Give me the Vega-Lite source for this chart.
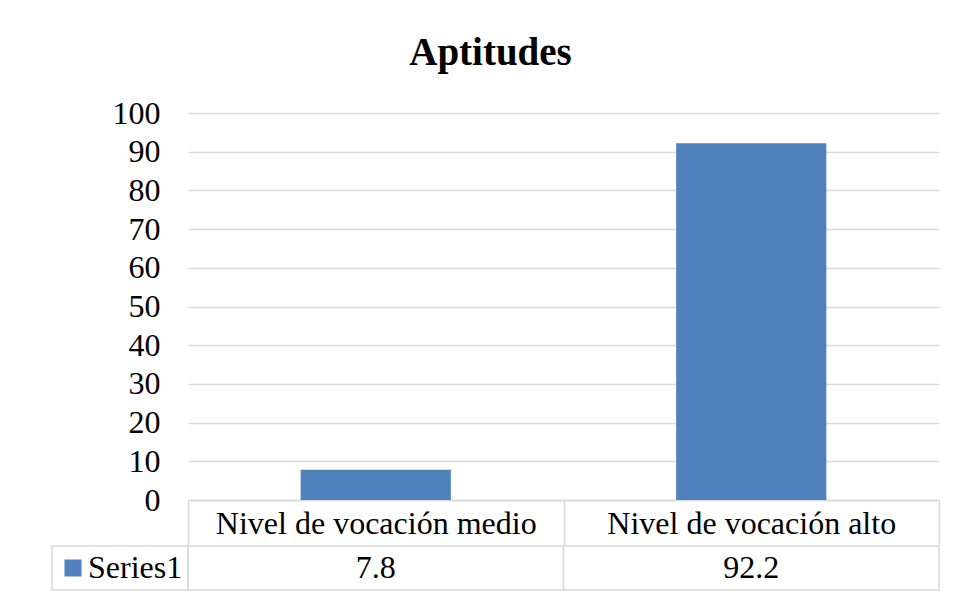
{
  "$schema": "https://vega.github.io/schema/vega-lite/v6.json",
  "background": "white",
  "padding": {"left": 51, "top": 34, "right": 14, "bottom": 6},
  "title": {
    "text": "Aptitudes",
    "font": "Liberation Serif",
    "fontSize": 39,
    "fontWeight": "bold",
    "color": "black",
    "anchor": "middle",
    "frame": "bounds",
    "dx": -5,
    "offset": 24
  },
  "datasets": {
    "aptitudes": [
      {"nivel": "Nivel de vocación medio", "serie": "Series1", "valor": 7.8},
      {"nivel": "Nivel de vocación alto", "serie": "Series1", "valor": 92.2}
    ]
  },
  "config": {
    "view": {"stroke": null},
    "font": "Liberation Serif"
  },
  "spacing": -4,
  "resolve": {"legend": {"color": "independent"}, "scale": {"color": "independent"}},
  "vconcat": [
    {
      "width": 751,
      "height": 387,
      "data": {"name": "aptitudes"},
      "mark": {"type": "bar", "color": "#4F81BD", "width": {"band": 0.4}},
      "encoding": {
        "x": {
          "field": "nivel",
          "type": "nominal",
          "sort": null,
          "scale": {"paddingInner": 0, "paddingOuter": 0},
          "axis": {
            "title": null,
            "labelAngle": 0,
            "labelFont": "Liberation Serif",
            "labelFontSize": 32,
            "labelColor": "black",
            "labelBaseline": "middle",
            "labelPadding": -22,
            "labelLimit": 400,
            "tickBand": "extent",
            "tickSize": 45,
            "tickColor": "#d9d9d9",
            "tickWidth": 1.5,
            "domainColor": "#d9d9d9",
            "domainWidth": 1.5
          }
        },
        "y": {
          "field": "valor",
          "type": "quantitative",
          "scale": {"domain": [0, 100], "nice": false},
          "axis": {
            "title": null,
            "values": [0, 10, 20, 30, 40, 50, 60, 70, 80, 90, 100],
            "domain": false,
            "ticks": false,
            "grid": true,
            "gridColor": "#d9d9d9",
            "gridWidth": 1.5,
            "labelFont": "Liberation Serif",
            "labelFontSize": 32,
            "labelColor": "black",
            "labelPadding": 28
          }
        }
      }
    },
    {
      "width": 751,
      "height": 44,
      "data": {"name": "aptitudes"},
      "encoding": {
        "x": {
          "field": "nivel",
          "type": "nominal",
          "sort": null,
          "scale": {"paddingInner": 0, "paddingOuter": 0},
          "axis": null
        },
        "y": {
          "field": "serie",
          "type": "nominal",
          "scale": {"paddingInner": 0, "paddingOuter": 0},
          "axis": null
        }
      },
      "layer": [
        {
          "mark": {"type": "bar", "opacity": 0},
          "encoding": {
            "color": {
              "field": "serie",
              "type": "nominal",
              "scale": {"range": ["#4F81BD"]},
              "legend": {
                "title": null,
                "orient": "left",
                "offset": 0,
                "padding": 5,
                "clipHeight": 34,
                "strokeColor": "#d9d9d9",
                "symbolType": "square",
                "symbolSize": 289,
                "symbolOpacity": 1,
                "symbolStrokeWidth": 0,
                "labelFont": "Liberation Serif",
                "labelFontSize": 32,
                "labelColor": "black",
                "labelOffset": -1,
                "labelLimit": 300,
                "encode": {
                  "legend": {"update": {"strokeWidth": {"value": 1.5}}}
                }
              }
            }
          }
        },
        {
          "mark": {"type": "rect", "fill": "white", "stroke": "#d9d9d9", "strokeWidth": 1.5}
        },
        {
          "mark": {"type": "text", "font": "Liberation Serif", "fontSize": 32, "baseline": "middle", "align": "center", "color": "black"},
          "encoding": {
            "text": {"field": "valor", "type": "quantitative", "format": ".1f"}
          }
        }
      ]
    }
  ]
}
